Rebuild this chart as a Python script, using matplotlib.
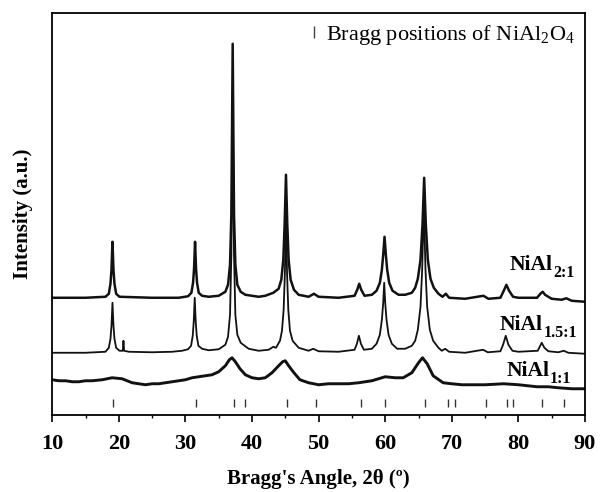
# XRD patterns of NiAl samples
import matplotlib
matplotlib.use("Agg")
import matplotlib.pyplot as plt
from matplotlib.lines import Line2D
import numpy as np

plt.rcParams['font.family'] = ['Liberation Serif', 'DejaVu Serif']
plt.rcParams['mathtext.fontset'] = 'custom'
plt.rcParams['mathtext.rm'] = 'Liberation Serif'
plt.rcParams['mathtext.bf'] = 'Liberation Serif:bold'

# 2theta / intensity (a.u.)
x_21 = [10, 15, 18.0, 18.5, 18.75, 18.9, 19.05, 19.2, 19.35, 19.6, 20.1, 25, 29, 30.4, 30.9,
        31.15, 31.3, 31.45, 31.6, 31.75, 32.0, 32.5, 33.5, 35, 36, 36.4, 36.7, 36.9, 37.1,
        37.3, 37.5, 37.8, 38.3, 39, 41, 42, 43.2, 44.0, 44.4, 44.7, 44.9, 45.1, 45.3, 45.5,
        45.8, 46.3, 47, 48.5, 49.3, 50, 53, 55.4, 55.8, 56.1, 56.4, 56.9, 58, 58.7, 59.2,
        59.5, 59.7, 59.9, 60.1, 60.3, 60.6, 61.1, 62, 63, 64, 64.5, 64.9, 65.3, 65.6, 65.85,
        66.1, 66.4, 66.8, 67.3, 68, 68.6, 69.1, 69.6, 72, 74.75, 75.5, 77.3, 77.8, 78.2,
        78.6, 79.2, 80, 82.8, 83.3, 83.65, 84, 85, 86.5, 87.2, 88, 90]
y_21 = [117, 117, 118, 121, 131, 145, 173, 145, 131, 121, 118, 117, 117, 118.5, 122,
        132, 146, 173, 146, 132, 122, 119, 118, 119, 123, 130, 150, 200, 371,
        200, 150, 130, 123, 120, 118, 119, 122, 126, 135, 155, 190, 240, 190, 155,
        135, 125, 120, 118, 121, 118, 117, 119, 125, 131, 125, 119, 120, 124, 132,
        145, 160, 178, 160, 145, 132, 124, 120, 120, 122, 127, 136, 155, 190, 237,
        190, 155, 136, 127, 121, 118, 121, 117, 116, 119, 116, 117, 124, 130,
        124, 118, 117, 117, 121, 123, 120, 116, 115, 116.5, 114, 113]

x_151 = [10, 15, 18.0, 18.5, 18.75, 18.9, 19.05, 19.2, 19.35, 19.6, 20.1, 20.6, 20.7, 20.8,
         21.5, 25, 28, 29.5, 30.4, 30.85, 31.1, 31.25, 31.4, 31.55, 31.7, 31.95, 32.5, 33.5,
         35, 36, 36.4, 36.7, 36.9, 37.1, 37.3, 37.5, 37.8, 38.3, 39.5, 41, 42.5, 43.2, 43.6,
         44.2, 44.5, 44.75, 44.93, 45.1, 45.27, 45.45, 45.7, 46.1, 47, 48.5, 49.2, 50, 53,
         55.4, 55.75, 56.05, 56.35, 56.8, 58, 58.7, 59.2, 59.5, 59.7, 59.85, 60.0, 60.2,
         60.5, 61, 61.8, 63, 64, 64.5, 64.9, 65.3, 65.55, 65.8, 66.05, 66.3, 66.7, 67.2, 68,
         68.5, 69.0, 69.6, 72, 74.7, 75.4, 77.3, 77.7, 78.1, 78.5, 79.1, 80, 82.9, 83.2,
         83.5, 83.9, 84.5, 86, 86.8, 87.5, 90]
y_151 = [62, 62, 63, 67, 76, 89, 112, 89, 76, 67, 64, 64, 74, 64,
         63, 62.5, 63, 64, 65.5, 69, 79, 93, 117, 93, 79, 69, 66, 64.5,
         65.5, 70, 78, 100, 160, 305, 160, 100, 80, 72, 66, 64, 65, 68, 67,
         74, 84, 105, 140, 192, 140, 105, 84, 74, 67, 64, 66, 63.5, 63,
         65, 71, 79, 71, 65, 66, 71, 80, 95, 112, 132, 112, 95,
         80, 71, 66, 66, 69, 74, 85, 108, 145, 210, 145, 108, 85, 74, 67,
         64, 66, 63, 62, 65, 62.5, 63.5, 70, 79, 70, 64, 63, 64, 68,
         72, 67, 63.5, 62.5, 64, 62, 61]

x_11 = [10, 11, 12, 13, 14, 15, 16, 17.5, 19, 20.5, 22, 23, 24, 25, 26, 28, 30, 31, 32, 33,
        34, 35, 36, 36.6, 37.0, 37.5, 38.2, 39, 40, 41, 42, 43, 44, 44.6, 45.0, 45.5, 46.3,
        47.2, 48.5, 50, 51.5, 53, 54.5, 56, 58, 60, 61.5, 62.7, 64, 65, 65.6, 66.3, 67.2,
        68.7, 70, 71.5, 72.8, 75, 77.8, 80, 82.8, 84.5, 86, 88, 90]
y_11 = [35, 34, 34, 33, 33, 34, 34, 35, 37, 36, 32, 31, 30, 31, 31, 33, 35, 37, 38, 39,
        40, 43, 49, 55, 57, 53, 46, 40, 37, 36, 37, 42, 49, 53, 54, 49, 42,
        35, 32, 30, 31, 31, 31, 32, 34, 38, 37, 37, 42, 52, 57, 51, 39,
        32, 31, 30, 30, 30, 31, 30, 28, 28, 27, 26, 26]

bragg_pos = [19.2, 31.6, 37.3, 38.9, 45.3, 49.6, 56.3, 60.0, 66.0, 69.5, 70.5,
             75.1, 78.3, 79.2, 83.6, 86.9]

fig = plt.figure(figsize=(6, 4.92), dpi=100)
ax = fig.add_axes([0.087, 0.157, 0.888, 0.817])

ax.plot(x_21, y_21, color='#111111', lw=1.8)
ax.plot(x_151, y_151, color='#111111', lw=1.3)
ax.plot(x_11, y_11, color='#111111', lw=2.1)
ax.vlines(bragg_pos, 8, 16, color='#333333', lw=1.0)


def sample_label(x, y, sub):
    t = ax.text(x, y, 'NiAl', fontsize=15.5, fontweight='bold', ha='left', va='baseline')
    ax.annotate(sub, xy=(1, 0), xycoords=t, xytext=(0.5, -1.5), textcoords='offset points',
                fontsize=11.5, fontweight='bold', ha='left', va='baseline')


sample_label(78.7, 145, '2:1')
sample_label(77.2, 85, '1.5:1')
sample_label(78.2, 38.5, '1:1')

h = Line2D([], [], color='#444444', marker='|', ls='none', markersize=8, mew=1.0)
ax.legend([h], [r'Bragg positions of NiAl$_2$O$_4$'], loc='upper right', frameon=False,
          fontsize=16, handlelength=0.6, handletextpad=0.25, borderaxespad=0.05)

ax.set_xlim(10, 90)
ax.set_ylim(0, 402)
ax.set_xticks(np.arange(10, 91, 10))
ax.set_xticks(np.arange(15, 90, 10), minor=True)
ax.set_yticks([])
ax.tick_params(axis='x', which='major', direction='out', length=5, width=1.2, labelsize=16, pad=9)
ax.tick_params(axis='x', which='minor', direction='out', length=2.5, width=1.0)
for lab in ax.get_xticklabels():
    lab.set_fontweight('bold')
for s in ax.spines.values():
    s.set_linewidth(1.3)

ax.set_xlabel("Bragg's Angle, 2θ (º)", fontsize=15, fontweight='bold', labelpad=11)
ax.set_ylabel('Intensity (a.u.)', fontsize=15, fontweight='bold', labelpad=14)

fig.savefig('out.png', dpi=100)
